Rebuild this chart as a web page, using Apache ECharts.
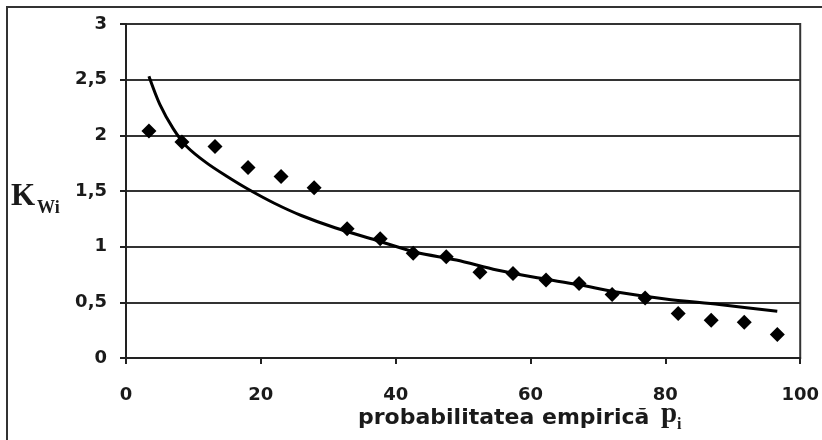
<!DOCTYPE html>
<html>
<head>
<meta charset="utf-8">
<script src="https://cdn.jsdelivr.net/npm/echarts@6/dist/echarts.min.js"></script>
<style>
    html, body { margin: 0; padding: 0; background: #fff; }
    #chartMain { width: 822px; height: 440px; }
</style>
</head>
<body>
<div id="chartMain"></div>
<script>
// probabilitatea empirica (%)
const probValues = [3.4, 8.3, 13.2, 18.1, 23.0, 27.9, 32.8, 37.7, 42.6, 47.5, 52.5, 57.4, 62.3, 67.2, 72.1, 77.0, 81.9, 86.8, 91.7, 96.6]
// puncte masurate (romburi)
const kwiValues = [2.04, 1.94, 1.90, 1.71, 1.63, 1.53, 1.16, 1.07, 0.94, 0.91, 0.77, 0.76, 0.70, 0.67, 0.57, 0.54, 0.40, 0.34, 0.32, 0.21]
// curba de ajustare
const fitX = [3.4, 5.0, 7.0, 9.0, 12.0, 15.0, 18.0, 22.0, 26.0, 31.0, 37.0, 43.0, 49.0, 55.0, 61.0, 67.0, 73.0, 80.0, 88.0, 96.6]
const fitY = [2.53, 2.28, 2.06, 1.90, 1.75, 1.63, 1.52, 1.39, 1.28, 1.17, 1.06, 0.95, 0.88, 0.79, 0.72, 0.66, 0.59, 0.53, 0.48, 0.42]
const xTicks = [0, 20, 40, 60, 80, 100]
const yTicks = [0, 0.5, 1, 1.5, 2, 2.5, 3]

const chartDom = document.getElementById('chartMain')
const chart = echarts.init(chartDom)

const labelFont = {
    color: '#1a1a1a',
    fontSize: 18,
    fontWeight: 'bold',
    fontFamily: 'DejaVu Sans',
}

const option = {
    animation: false,
    backgroundColor: '#fff',
    grid: {
        left: 126,
        right: 21,
        top: 24,
        bottom: 82,
        show: true,
        borderColor: '#333',
        borderWidth: 2,
    },
    xAxis: {
        type: 'value',
        min: xTicks[0],
        max: xTicks[xTicks.length - 1],
        interval: xTicks[1] - xTicks[0],
        splitLine: { show: false },
        axisLine: { lineStyle: { color: '#222', width: 2 } },
        axisTick: { show: true, length: 6, lineStyle: { color: '#222', width: 2 } },
        axisLabel: Object.assign({ margin: 28 }, labelFont),
    },
    yAxis: {
        type: 'value',
        min: yTicks[0],
        max: yTicks[yTicks.length - 1],
        interval: yTicks[1] - yTicks[0],
        axisLine: { show: true, lineStyle: { color: '#222', width: 2 } },
        axisTick: { show: true, length: 6, lineStyle: { color: '#222', width: 2 } },
        splitLine: { show: true, lineStyle: { color: '#333', width: 2 } },
        axisLabel: Object.assign({
            margin: 19,
            formatter: (v) => String(v).replace('.', ','),
        }, labelFont),
    },
    graphic: [
        {
            // rama exterioara
            type: 'rect',
            shape: { x: 7, y: 7, width: 900, height: 500 },
            style: { fill: 'none', stroke: '#333', lineWidth: 2 },
            silent: true,
        },
        {
            type: 'text',
            left: 11,
            top: 181,
            style: { text: 'K', font: 'bold 31px "Liberation Serif"', fill: '#1a1a1a' },
        },
        {
            type: 'text',
            left: 37,
            top: 199,
            style: { text: 'Wi', font: 'bold 18px "Liberation Serif"', fill: '#1a1a1a' },
        },
        {
            type: 'text',
            left: 358,
            top: 407,
            style: { text: 'probabilitatea empirică', font: 'bold 22px "DejaVu Sans"', fill: '#1a1a1a' },
        },
        {
            type: 'text',
            left: 661,
            top: 400,
            style: { text: 'p', font: 'bold 29px "Liberation Serif"', fill: '#1a1a1a' },
        },
        {
            type: 'text',
            left: 677,
            top: 417,
            style: { text: 'i', font: 'bold 16px "Liberation Serif"', fill: '#1a1a1a' },
        },
    ],
    series: [
        {
            name: 'ajustare',
            type: 'line',
            smooth: 0.3,
            showSymbol: false,
            lineStyle: { color: '#000', width: 3 },
            data: fitX.map((x, i) => [x, fitY[i]]),
            z: 3,
        },
        {
            name: 'KWi',
            type: 'scatter',
            symbol: 'diamond',
            symbolSize: [15, 15],
            itemStyle: { color: '#000', opacity: 1 },
            data: probValues.map((x, i) => [x, kwiValues[i]]),
            z: 4,
        },
    ],
}
option && chart.setOption(option)
</script>
</body>
</html>
